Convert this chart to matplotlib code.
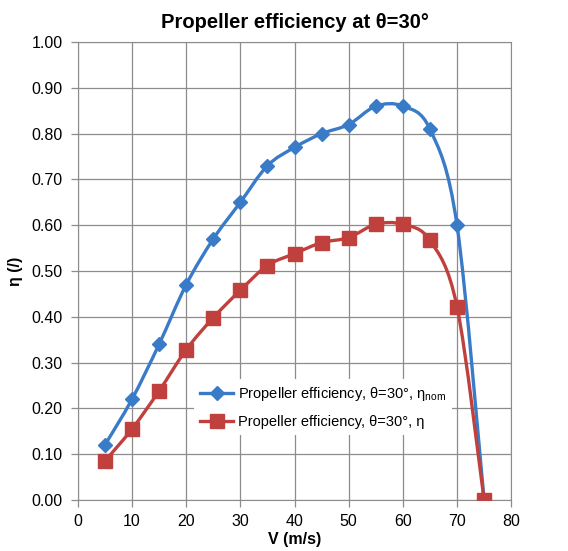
import matplotlib
matplotlib.use('Agg')
import matplotlib.pyplot as plt
from matplotlib.path import Path
from matplotlib.patches import PathPatch
from matplotlib.lines import Line2D

plt.rcParams['font.family'] = ['Liberation Sans', 'DejaVu Sans']

v = [5, 10, 15, 20, 25, 30, 35, 40, 45, 50, 55, 60, 65, 70, 75]
eta_nom = [0.12, 0.22, 0.34, 0.47, 0.57, 0.65, 0.73, 0.77, 0.80, 0.82, 0.86, 0.86, 0.81, 0.60, 0.00]
eta = [0.085, 0.155, 0.238, 0.328, 0.398, 0.458, 0.512, 0.538, 0.562, 0.573, 0.602, 0.602, 0.567, 0.422, 0.00]

BLUE = "#3A7BC8"
RED = "#C0403D"


def _smooth_path(xs, ys):
    """Excel-like smoothed line: Catmull-Rom segments as cubic Bezier curves."""
    pts = list(zip(xs, ys))
    verts = [pts[0]]
    codes = [Path.MOVETO]
    n = len(pts)
    for i in range(n - 1):
        p0 = pts[i - 1] if i > 0 else pts[i]
        p1 = pts[i]
        p2 = pts[i + 1]
        p3 = pts[i + 2] if i + 2 < n else pts[i + 1]
        c1 = (p1[0] + (p2[0] - p0[0]) / 6, p1[1] + (p2[1] - p0[1]) / 6)
        c2 = (p2[0] - (p3[0] - p1[0]) / 6, p2[1] - (p3[1] - p1[1]) / 6)
        verts += [c1, c2, p2]
        codes += [Path.CURVE4] * 3
    return Path(verts, codes)


fig = plt.figure(figsize=(5.68, 5.51), dpi=100)
ax = fig.add_axes([0.137, 0.0926, 0.763, 0.831])

for ys, color, marker, ms in [(eta_nom, BLUE, "D", 7), (eta, RED, "s", 9.5)]:
    ax.add_patch(PathPatch(_smooth_path(v, ys), facecolor="none", edgecolor=color,
                           lw=2.4, zorder=3, capstyle="round"))
    ax.plot(v, ys, linestyle="none", marker=marker, ms=ms, color=color,
            markeredgecolor=color, zorder=4)

ax.set_xlim(0, 80)
ax.set_ylim(0, 1.0)
ax.set_xticks(range(0, 81, 10))
ax.set_yticks([i / 10 for i in range(11)])
ax.set_yticklabels([f"{i / 10:.2f}" for i in range(11)])
ax.grid(True, color="#8c8c8c", lw=0.9)
ax.set_axisbelow(True)
for s in ax.spines.values():
    s.set_color("#8c8c8c")
ax.tick_params(colors="#8c8c8c", labelcolor="black", labelsize=11.5, length=5, width=0.9)
ax.tick_params(axis="y", pad=6)
ax.tick_params(axis="x", pad=5)

ax.set_title("Propeller efficiency at θ=30°", fontsize=14.5, fontweight="bold", pad=10)
ax.set_xlabel("V (m/s)", fontsize=11.5, fontweight="bold", labelpad=2)
ax.set_ylabel("η (/)", fontsize=11.5, fontweight="bold", labelpad=6)

handles = [
    Line2D([], [], color=BLUE, lw=2.4, marker="D", ms=7),
    Line2D([], [], color=RED, lw=2.4, marker="s", ms=9.5),
]
labels = ["Propeller efficiency, θ=30°, η$_{\\mathregular{nom}}$",
          "Propeller efficiency, θ=30°, η"]
leg = ax.legend(handles, labels, loc="upper left", bbox_to_anchor=(194 / 568, 1 - 379 / 551),
                bbox_transform=fig.transFigure, frameon=True, fancybox=False,
                facecolor="white", edgecolor="none", framealpha=1, fontsize=10.5,
                handlelength=2.3, handletextpad=0.3, labelspacing=0.85, borderpad=0.4,
                borderaxespad=0)
leg.set_zorder(5)

fig.savefig("out.png", dpi=100)
